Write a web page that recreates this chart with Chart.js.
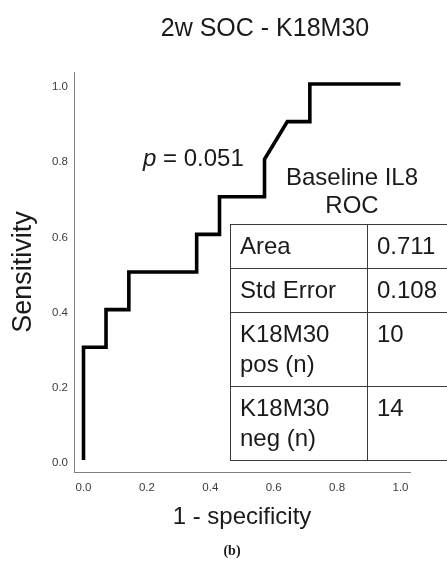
<!DOCTYPE html>
<html>
<head>
<meta charset="utf-8">
<script src="https://cdn.jsdelivr.net/npm/chart.js@4/dist/chart.umd.min.js"></script>
<style>
  html, body { margin:0; padding:0; background:#fff; overflow:hidden; width:447px; height:561px; }
  #wrap { position:relative; width:447px; height:561px; overflow:hidden; }
  canvas { position:absolute; left:0; top:0; }
  .txt { position:absolute; font-family:"Liberation Sans", Arial, sans-serif; color:#1a1a1a; white-space:nowrap; }
  #title { left:115px; width:300px; top:12px; font-size:25px; line-height:30px; text-align:center; }
  #pval { left:143px; top:144px; font-size:24px; line-height:28px; }
  #boxtitle { left:252px; width:200px; top:163px; font-size:24px; line-height:28px; text-align:center; }
  #panel { left:182px; width:100px; top:543px; font-family:"Liberation Serif","Times New Roman",serif; font-weight:bold; font-size:14px; line-height:16px; text-align:center; }
  #tbl { position:absolute; left:230px; top:224px; border-collapse:collapse; table-layout:fixed; width:260px;
         font-family:"Liberation Sans", Arial, sans-serif; font-size:24px; color:#1a1a1a; background:transparent; }
  #tbl td { border:1px solid #3a3a3a; padding:6px 9px 7px 9px; line-height:30px; vertical-align:top; white-space:nowrap; }
</style>
</head>
<body>
<div id="wrap">
  <canvas id="c" width="447" height="561"></canvas>
  <div class="txt" id="title">2w SOC - K18M30</div>
  <div class="txt" id="pval"><i>p</i> = 0.051</div>
  <div class="txt" id="boxtitle">Baseline IL8<br>ROC</div>
  <table id="tbl">
    <colgroup><col style="width:137px"><col style="width:123px"></colgroup>
    <tbody id="tbody"></tbody>
  </table>
  <div class="txt" id="panel">(b)</div>
</div>
<script>
// ROC curve (1 - specificity, sensitivity)
const fpr = [0, 0, 0.071, 0.071, 0.143, 0.143, 0.357, 0.357, 0.429, 0.429, 0.571, 0.571, 0.643, 0.714, 0.714, 1.0];
const tpr = [0, 0.3, 0.3, 0.4, 0.4, 0.5, 0.5, 0.6, 0.6, 0.7, 0.7, 0.8, 0.9, 0.9, 1.0, 1.0];
const tickValues = [0.0, 0.2, 0.4, 0.6, 0.8, 1.0];
const tickLabels = ['0.0', '0.2', '0.4', '0.6', '0.8', '1.0'];
const statNames = [['Area'], ['Std Error'], ['K18M30', 'pos (n)'], ['K18M30', 'neg (n)']];
const statValues = ['0.711', '0.108', '10', '14'];

// stats table
const tb = document.getElementById('tbody');
statNames.forEach((n, i) => {
  const tr = document.createElement('tr');
  const a = document.createElement('td'); a.innerHTML = n.join('<br>');
  const b = document.createElement('td'); b.textContent = statValues[i];
  tr.appendChild(a); tr.appendChild(b); tb.appendChild(tr);
});

const tickFont = { family: "'Liberation Sans', Arial, sans-serif", size: 11.5 };
const setTicks = s => { s.ticks = tickValues.map(v => ({ value: v })); };
const fmt = (v) => { const i = tickValues.indexOf(v); return i >= 0 ? tickLabels[i] : ''; };

new Chart(document.getElementById('c'), {
  type: 'scatter',
  data: {
    datasets: [{
      data: fpr.map((x, i) => ({ x: x, y: tpr[i] })),
      showLine: true,
      borderColor: '#000',
      borderWidth: 3.6,
      borderJoinStyle: 'miter',
      borderCapStyle: 'butt',
      pointRadius: 0,
      pointHoverRadius: 0,
      tension: 0,
      fill: false
    }]
  },
  options: {
    responsive: false,
    devicePixelRatio: 1,
    animation: false,
    events: [],
    layout: { padding: { left: 0, right: 37, top: 72, bottom: 20 } },
    plugins: { legend: { display: false }, tooltip: { enabled: false }, title: { display: false } },
    scales: {
      x: {
        type: 'linear', min: -0.03, max: 1.03,
        afterBuildTicks: setTicks,
        afterFit: s => { s.height = 69; },
        grid: { display: false, drawTicks: false },
        border: { display: true, color: '#808080', width: 1 },
        ticks: { font: tickFont, color: '#3c3c3c', padding: 9, maxRotation: 0, autoSkip: false, callback: fmt },
        title: { display: true, text: '1 - specificity', color: '#1a1a1a',
                 font: { family: "'Liberation Sans', Arial, sans-serif", size: 24 }, padding: { top: 0, bottom: 9 } }
      },
      y: {
        type: 'linear', min: -0.032, max: 1.032,
        afterBuildTicks: setTicks,
        afterFit: s => { s.width = 74; },
        grid: { display: false, drawTicks: false },
        border: { display: true, color: '#808080', width: 1 },
        ticks: { font: tickFont, color: '#3c3c3c', padding: 6, labelOffset: 3, autoSkip: false, callback: fmt },
        title: { display: true, text: 'Sensitivity', color: '#1a1a1a',
                 font: { family: "'Liberation Sans', Arial, sans-serif", size: 27 }, padding: { top: 7, bottom: 0 } }
      }
    }
  }
});
</script>
</body>
</html>
